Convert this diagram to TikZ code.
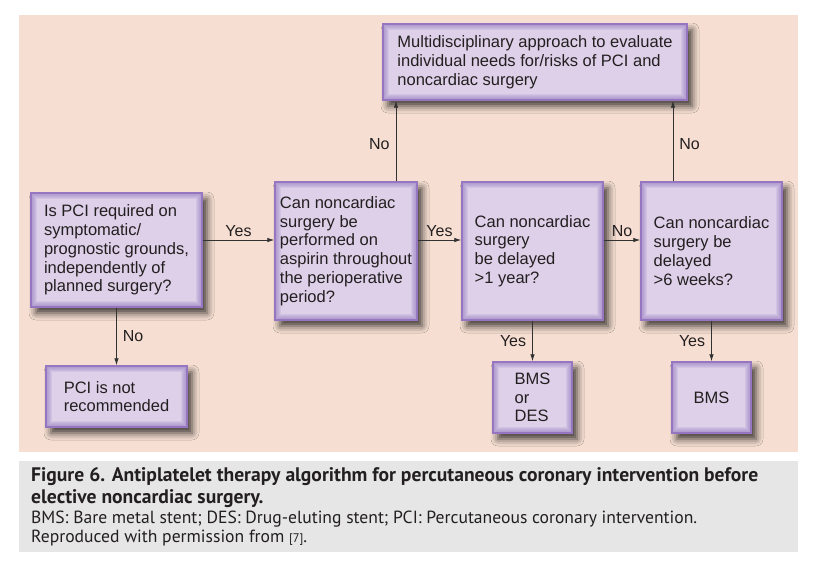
\documentclass[tikz,border=0pt]{standalone}
\usepackage{fontspec}
\setmainfont{Liberation Sans}
\newfontfamily\capfont{PT Sans}
\usetikzlibrary{arrows.meta,shadows.blur}

\definecolor{panelbg}{RGB}{246,223,210}
\definecolor{capbg}{RGB}{230,230,230}
\definecolor{boxfill}{RGB}{221,208,232}
\definecolor{boxline}{RGB}{150,118,192}
\definecolor{inkgray}{RGB}{35,31,32}
\definecolor{arrowgray}{RGB}{50,50,50}

\begin{document}
\begin{tikzpicture}[x=1pt,y=-1pt,
    decision/.style={draw=boxline, line width=1.4pt, fill=boxfill, text=inkgray, align=left, inner sep=0pt,
        font=\fontsize{16.5}{18.8}\selectfont,
        blur shadow={shadow xshift=5pt, shadow yshift=-6pt, shadow blur radius=7pt, shadow opacity=75},
        path picture={\foreach \w in {2,4,...,12}{\draw[boxline, opacity=0.14, line width=\w pt] (path picture bounding box.south west) rectangle (path picture bounding box.north east);}}},
    flow/.style={draw=arrowgray, line width=0.8pt, -{Latex[length=7pt,width=4.5pt]}},
    answer/.style={font=\fontsize{16}{18}\selectfont, text=inkgray, inner sep=3pt},
    capline/.style={anchor=base west, inner sep=0pt, text=inkgray}]

    \useasboundingbox[fill=white] (0,0) rectangle (820,563);
    \fill[panelbg] (19,15) rectangle (798,452);
    \fill[capbg] (19,461) rectangle (798,552);

    \node[decision, minimum width=304pt, minimum height=76pt] (multi) at (535,62) {Multidisciplinary approach to evaluate\\individual needs for/risks of PCI and\\noncardiac surgery};
    \node[decision, minimum width=171pt, minimum height=114pt] (q1) at (116.5,250) {Is PCI required on\\symptomatic/\\prognostic grounds,\\independently of\\planned surgery?};
    \node[decision, minimum width=142pt, minimum height=138pt] (q2) at (346,251) {Can noncardiac\\surgery be\\performed on\\aspirin throughout\\the perioperative\\period?};
    \node[decision, minimum width=141pt, minimum height=138pt] (q3) at (532.5,251) {Can noncardiac\\surgery\\be delayed\\>1 year?};
    \node[decision, minimum width=141pt, minimum height=138pt] (q4) at (711.5,251) {Can noncardiac\\surgery be\\delayed\\>6 weeks?};
    \node[decision, minimum width=141pt, minimum height=61pt] (pcino) at (116.5,396.5) {PCI is not\\recommended};
    \node[decision, minimum width=79pt, minimum height=71pt] (bmsdes) at (532.5,397.5) {BMS\\or\\DES};
    \node[decision, minimum width=79pt, minimum height=71pt] (bms) at (711.5,397.5) {BMS};

    \draw[flow] ([yshift=10pt]q1.east) -- ([yshift=11pt]q2.west) node[answer, midway, above] {Yes};
    \draw[flow] ([yshift=11pt]q2.east) -- ([yshift=11pt]q3.west) node[answer, midway, above] {Yes};
    \draw[flow] ([yshift=11pt]q3.east) -- ([yshift=11pt]q4.west) node[answer, midway, above] {No};
    \draw[flow] ([xshift=50pt]q2.north) -- ([xshift=-139pt]multi.south) node[answer, midway, left=3pt, yshift=-3pt] {No};
    \draw[flow] ([xshift=-38.5pt]q4.north) -- ([xshift=138pt]multi.south) node[answer, midway, right=3pt, yshift=-3pt] {No};
    \draw[flow] (q1.south) -- (pcino.north) node[answer, midway, right=3pt] {No};
    \draw[flow] (q3.south) -- (bmsdes.north) node[answer, midway, left=3pt] {Yes};
    \draw[flow] (q4.south) -- (bms.north) node[answer, midway, left=3pt] {Yes};

    \node[capline, font={\capfont\bfseries\fontsize{19.6}{22}\selectfont}] (cap1) at (31,481) {Figure 6. Antiplatelet therapy algorithm for percutaneous coronary intervention before};
    \node[capline, font={\capfont\bfseries\fontsize{19.6}{22}\selectfont}] (cap2) at (31,503) {elective noncardiac surgery.};
    \node[capline, font={\capfont\fontsize{17.6}{20}\selectfont}] (cap3) at (31,523) {BMS: Bare metal stent; DES: Drug-eluting stent; PCI: Percutaneous coronary intervention.};
    \node[capline, font={\capfont\fontsize{17.6}{20}\selectfont}] (cap4) at (31,542) {Reproduced with permission from {\fontsize{12.5}{12}\selectfont[7]}.};
\end{tikzpicture}
\end{document}
